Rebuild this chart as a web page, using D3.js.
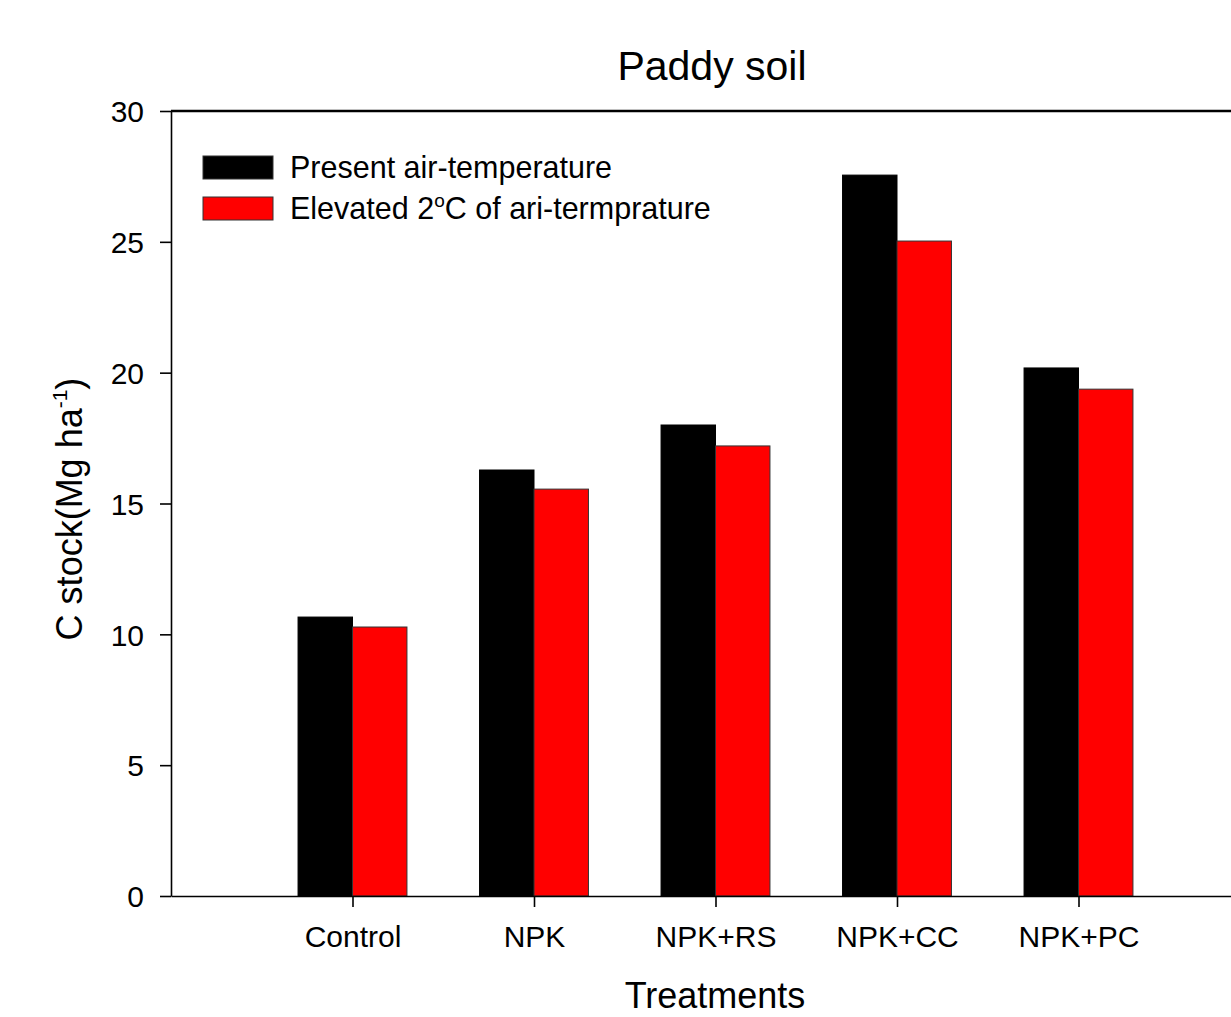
<!DOCTYPE html>
<html>
<head>
    <meta charset="UTF-8" />
    <title>Paddy soil</title>
    <script src="https://cdn.jsdelivr.net/npm/d3@7"></script>
    <style>
        body { margin: 0; background: #fff; }
        svg { display: block; background: #fff; font-family: "Liberation Sans", Arial, sans-serif; }
        .axis path, .axis line { stroke: #000; stroke-width: 1.6; }
        .axis text { font-size: 30px; fill: #000; font-family: "Liberation Sans", Arial, sans-serif; }
    </style>
</head>
<body>
<div id="chart"></div>
<script>
    // data
    let categories = ["Control", "NPK", "NPK+RS", "NPK+CC", "NPK+PC"];
    let present = [10.66, 16.28, 18.0, 27.55, 20.18];
    let elevated = [10.28, 15.55, 17.2, 25.03, 19.37];
    let seriesNames = ["Present air-temperature", "Elevated 2°C of ari-termprature"];
    let colors = ["#000000", "#ff0000"];
    let yTicks = [0, 5, 10, 15, 20, 25, 30];

    let W = 1231, H = 1017;
    let plotLeft = 171, plotTop = 111, plotBottom = 896, plotRight = 1260;

    let svg = d3.select("#chart").append("svg")
        .attr("width", W)
        .attr("height", H);

    let x = d3.scaleLinear().domain([0, categories.length + 1]).range([plotLeft, plotRight]);
    let y = d3.scaleLinear().domain([0, 30]).range([plotBottom, plotTop]);
    let barW = x(0.3) - x(0);

    // bars
    let groups = svg.append("g").attr("class", "bars");
    categories.forEach((c, i) => {
        groups.append("rect")
            .attr("x", x(i + 1) - barW)
            .attr("y", y(present[i]))
            .attr("width", barW)
            .attr("height", y(0) - y(present[i]))
            .attr("fill", colors[0])
            .attr("stroke", "#000")
            .attr("stroke-width", 1);
        groups.append("rect")
            .attr("x", x(i + 1))
            .attr("y", y(elevated[i]))
            .attr("width", barW)
            .attr("height", y(0) - y(elevated[i]))
            .attr("fill", colors[1])
            .attr("stroke", "#333")
            .attr("stroke-width", 1);
    });

    // axes
    svg.append("g")
        .attr("class", "axis")
        .attr("transform", "translate(" + plotLeft + ",0)")
        .call(d3.axisLeft(y).tickValues(yTicks).tickSize(11).tickSizeOuter(0).tickPadding(16))
        .call(g => g.selectAll("text").attr("dy", "0.36em"));

    svg.append("g")
        .attr("class", "axis")
        .attr("transform", "translate(0," + plotBottom + ")")
        .call(d3.axisBottom(x).tickValues(d3.range(1, categories.length + 1))
            .tickFormat(d => categories[d - 1]).tickSize(11).tickSizeOuter(0).tickPadding(19));

    // top frame line
    svg.append("line")
        .attr("x1", plotLeft).attr("x2", plotRight)
        .attr("y1", plotTop).attr("y2", plotTop)
        .attr("stroke", "#000").attr("stroke-width", 2.5);

    // title and labels
    svg.append("text")
        .attr("x", 712).attr("y", 80)
        .attr("text-anchor", "middle")
        .style("font-size", "41px")
        .text("Paddy soil");

    svg.append("text")
        .attr("x", 715).attr("y", 1008)
        .attr("text-anchor", "middle")
        .style("font-size", "36px")
        .text("Treatments");

    let yl = svg.append("text")
        .attr("transform", "translate(82,509) rotate(-90)")
        .attr("text-anchor", "middle")
        .style("font-size", "36px");
    yl.append("tspan").text("C stock(Mg ha");
    yl.append("tspan").attr("dy", -15).style("font-size", "21px").text("-1");
    yl.append("tspan").attr("dy", 15).text(")");

    // legend
    let legend = svg.append("g").attr("class", "legend");
    seriesNames.forEach((name, i) => {
        let ly = 156 + i * 41;
        legend.append("rect")
            .attr("x", 203).attr("y", ly)
            .attr("width", 70).attr("height", 23)
            .attr("fill", colors[i])
            .attr("stroke", "#333").attr("stroke-width", 1);
        let t = legend.append("text")
            .attr("x", 290).attr("y", ly + 22)
            .style("font-size", "30.5px");
        if (i === 1) {
            t.append("tspan").text("Elevated 2");
            t.append("tspan").attr("dy", -12).style("font-size", "19px").text("o");
            t.append("tspan").attr("dy", 12).text("C of ari-termprature");
        } else {
            t.text(name);
        }
    });
</script>
</body>
</html>
